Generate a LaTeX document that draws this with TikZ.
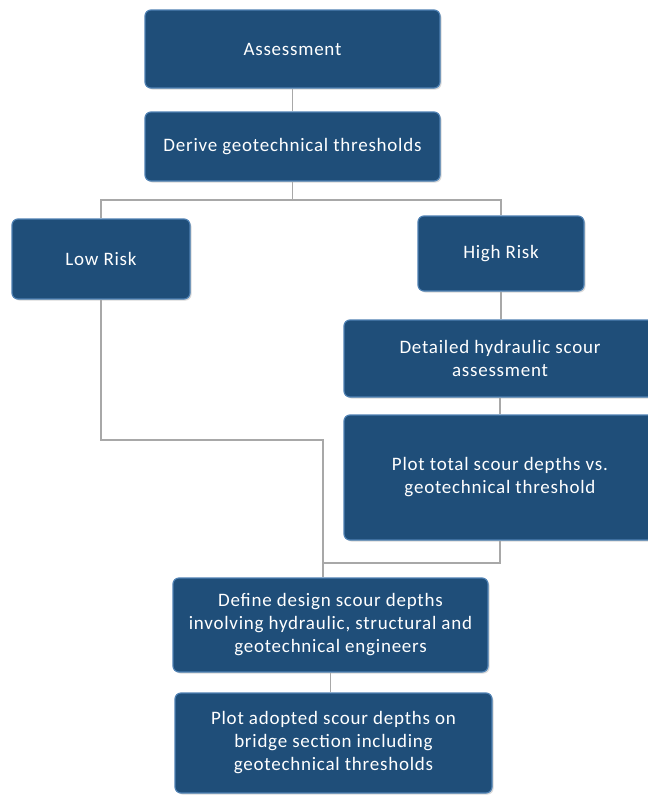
\documentclass[tikz,border=0pt]{standalone}
\usepackage{fontspec}
\setmainfont{Carlito}[LetterSpace=4]
\usetikzlibrary{positioning, calc, shadows}
\definecolor{boxblue}{RGB}{31,78,121}
\definecolor{boxedge}{RGB}{78,128,178}
\definecolor{linkgray}{RGB}{168,168,168}

\begin{document}
\begin{tikzpicture}[
  x=1pt, y=-1pt,
  font=\fontsize{19}{23}\selectfont,
  box/.style  = {draw=boxedge, line width=1.2pt, fill=boxblue, rounded corners=6pt, align=center, text=white, inner sep=2pt,
                 drop shadow={opacity=0.3, shadow xshift=1.5pt, shadow yshift=-1.5pt}},
  link/.style = {draw=linkgray, line width=1.6pt},
]
\useasboundingbox (0,0) rectangle (648,796);
% boxes, top to bottom
\node[box, minimum width=295, minimum height=78]  (assess) at (292.5,49)  {Assessment};
\node[box, minimum width=295, minimum height=69]  (derive) at (292.5,146.5) {Derive geotechnical thresholds};
\node[box, minimum width=178, minimum height=80]  (low)    at (101,259)   {Low Risk};
\node[box, minimum width=166, minimum height=75]  (high)   at (501,253.5) {High Risk};
\node[box, minimum width=312, minimum height=77]  (hydr)   at (500,358.5) {Detailed hydraulic scour\\assessment};
\node[box, minimum width=312, minimum height=125] (plot)   at (500,477.5) {Plot total scour depths vs.\\geotechnical threshold};
\node[box, minimum width=315, minimum height=94]  (design) at (330.5,625) {Define design scour depths\\involving hydraulic, structural and\\geotechnical engineers};
\node[box, minimum width=317, minimum height=100] (adopt)  at (333.5,743) {Plot adopted scour depths on\\bridge section including\\geotechnical thresholds};
% connectors
\coordinate (fork)     at (292.5,200);
\coordinate (lowbend)  at (323,440);
\coordinate (plotbend) at (323,563);
\draw[link] (assess.south) -- (derive.north);
\draw[link] (derive.south) -- (fork);
\draw[link] (low.north) |- (fork) -| (high.north);
\draw[link] (high.south) -- (high.south |- hydr.north);
\draw[link] (hydr.south) -- (plot.north);
\draw[link] (low.south) |- (lowbend) -- (lowbend |- design.north);
\draw[link] (plot.south) |- (plotbend);
\draw[link] (design.south) -- (design.south |- adopt.north);
\end{tikzpicture}
\end{document}
